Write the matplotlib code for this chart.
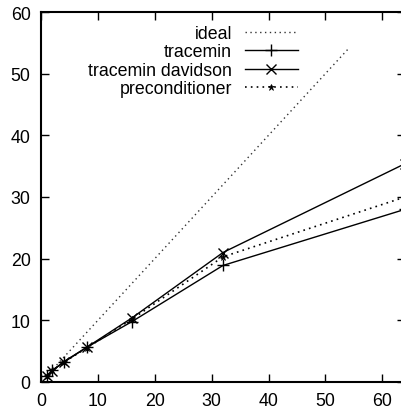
import numpy as np
import matplotlib
matplotlib.use('Agg')
import matplotlib.pyplot as plt

plt.rcParams['font.family'] = ['Liberation Sans', 'DejaVu Sans']

procs = [1, 2, 4, 8, 16, 32, 64]
ideal_x = [1, 54]
ideal_y = [1, 54]
tracemin = [1.0, 1.9, 3.2, 5.6, 9.8, 18.9, 28.0]
davidson = [1.0, 1.8, 3.3, 5.6, 10.4, 21.0, 35.4]
precond = [1.0, 1.9, 3.2, 5.5, 10.2, 20.3, 30.0]

fig = plt.figure(figsize=(4.01, 4.10), dpi=100)
ax = fig.add_axes([41 / 401, 27 / 410, 364 / 401, 370 / 410])

ax.plot(ideal_x, ideal_y, color='#333333', linestyle=(0, (1, 2.5)), lw=1, label='ideal')
ax.plot(procs, tracemin, color='black', lw=1, marker='+', ms=8, mew=1, label='tracemin')
ax.plot(procs, davidson, color='black', lw=1, marker='x', ms=7.5, mew=1, label='tracemin davidson')
ax.plot(procs, precond, color='black', linestyle=(0, (1, 2.5)), lw=1.2, marker='*', ms=4.5,
        mew=0.5, label='preconditioner')

ax.set_xlim(0, 64)
ax.set_ylim(0, 60)
ax.set_xticks(np.arange(0, 61, 10))
ax.set_yticks(np.arange(0, 61, 10))
ax.tick_params(direction='in', length=6, width=1, top=True, right=True, labelsize=12.8)
ax.tick_params(axis='x', pad=7.5)
ax.tick_params(axis='y', pad=7.5)
for s in ax.spines.values():
    s.set_linewidth(1.5)

lgd = ax.legend(loc='upper right', bbox_to_anchor=((298 - 41) / 364, (383 - 26) / 370),
                frameon=False, markerfirst=False, borderpad=0, borderaxespad=0,
                handlelength=3.0, handletextpad=0.7, labelspacing=0.08, fontsize=12.8)

fig.savefig('out.png', dpi=100)
